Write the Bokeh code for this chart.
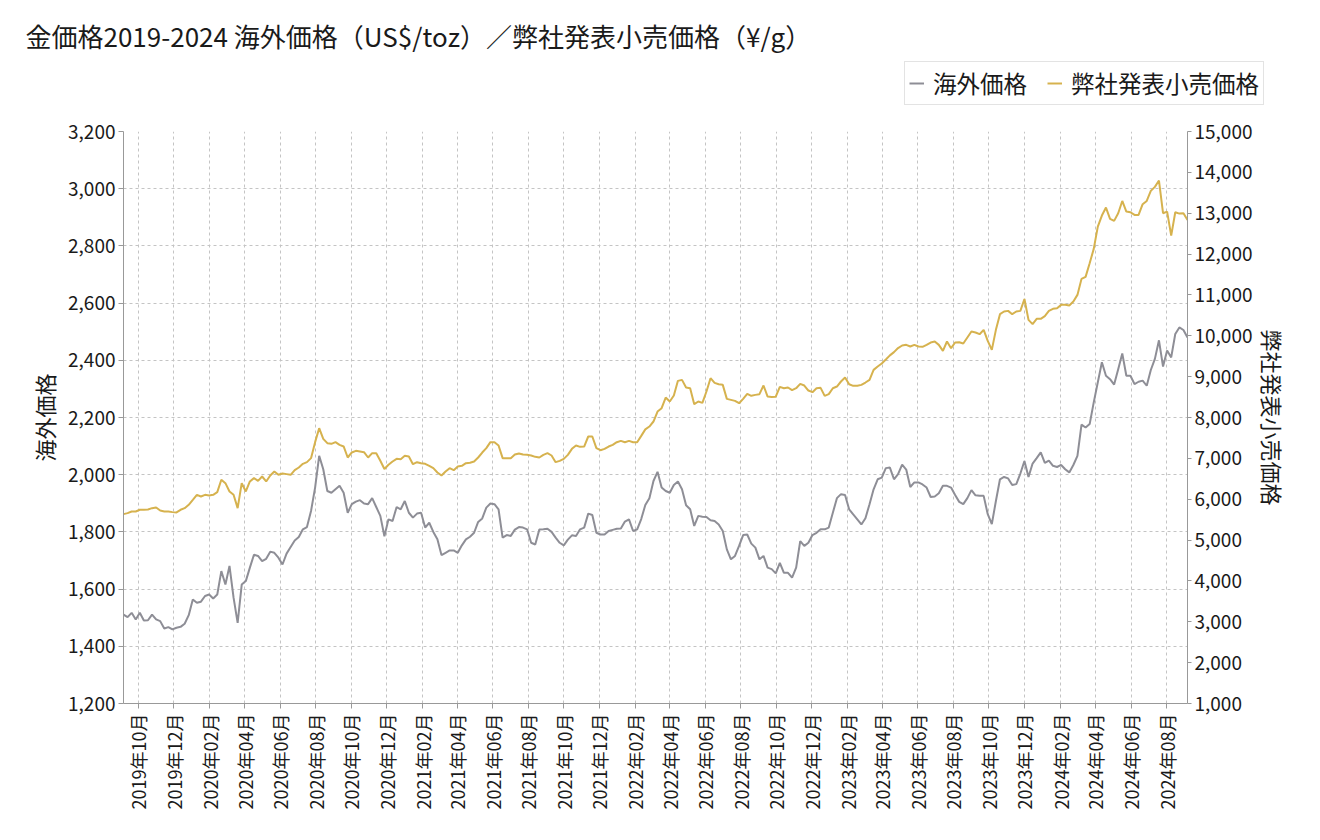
import math
import pandas as pd
from bokeh.plotting import figure
from bokeh.models import (Range1d, LinearAxis, SingleIntervalTicker, FixedTicker,
                          NumeralTickFormatter, DatetimeTickFormatter, Legend,
                          LegendItem, Label, ColumnDataSource)
from bokeh.embed import file_html
from bokeh.resources import INLINE

FONT = "Noto Sans CJK JP"
TITLE = "金価格2019-2024 海外価格（US$/toz）／弊社発表小売価格（¥/g）"

# weekly observations starting 2019-09-06
start_date = "2019-09-06"
end_date = "2024-09-06"

overseas_price = [  # US$/toz
    1511, 1502, 1517, 1494, 1517, 1490, 1491, 1511, 1494, 1488,
    1462, 1467, 1459, 1465, 1468, 1479, 1509, 1564, 1552, 1556,
    1576, 1581, 1567, 1581, 1663, 1616, 1681, 1570, 1482, 1616,
    1628, 1675, 1720, 1716, 1698, 1706, 1731, 1727, 1710, 1686,
    1724, 1747, 1770, 1782, 1809, 1817, 1873, 1955, 2066, 2019,
    1943, 1937, 1949, 1961, 1937, 1867, 1897, 1906, 1911, 1899,
    1897, 1918, 1887, 1856, 1785, 1844, 1838, 1887, 1879, 1908,
    1867, 1850, 1864, 1867, 1815, 1832, 1800, 1774, 1719, 1727,
    1735, 1735, 1727, 1753, 1774, 1783, 1797, 1835, 1847, 1885,
    1899, 1897, 1879, 1780, 1789, 1786, 1808, 1817, 1815, 1809,
    1762, 1756, 1808, 1809, 1811, 1800, 1780, 1762, 1753, 1773,
    1788, 1786, 1809, 1815, 1864, 1859, 1797, 1791, 1791, 1803,
    1807, 1811, 1812, 1836, 1844, 1803, 1809, 1845, 1894, 1918,
    1978, 2010, 1955, 1943, 1937, 1964, 1976, 1949, 1893, 1879,
    1821, 1856, 1853, 1852, 1841, 1838, 1826, 1803, 1739, 1704,
    1716, 1751, 1789, 1791, 1759, 1745, 1704, 1716, 1675, 1670,
    1655, 1692, 1657, 1657, 1640, 1675, 1768, 1751, 1762, 1789,
    1797, 1809, 1809, 1815, 1867, 1918, 1932, 1929, 1879, 1861,
    1844, 1826, 1848, 1897, 1949, 1984, 1990, 2023, 2025, 1984,
    2002, 2035, 2018, 1957, 1973, 1973, 1966, 1955, 1922, 1924,
    1935, 1961, 1961, 1955, 1929, 1905, 1897, 1918, 1946, 1928,
    1926, 1926, 1862, 1827, 1908, 1984, 1992, 1987, 1964, 1967,
    2004, 2048, 1992, 2039, 2058, 2078, 2041, 2049, 2031, 2027,
    2034, 2019, 2008, 2034, 2066, 2175, 2165, 2177, 2253, 2323,
    2393, 2346, 2334, 2315, 2369, 2424, 2346, 2346, 2317, 2325,
    2329, 2311, 2366, 2405, 2470, 2378, 2434, 2410, 2492, 2515,
    2506, 2480,
]

retail_price = [  # JPY/g
    5635, 5659, 5700, 5700, 5741, 5741, 5749, 5781, 5798, 5724,
    5700, 5700, 5684, 5676, 5741, 5781, 5863, 5985, 6108, 6067,
    6108, 6091, 6108, 6173, 6475, 6393, 6189, 6108, 5781, 6393,
    6189, 6434, 6516, 6450, 6556, 6434, 6581, 6679, 6597, 6630,
    6614, 6597, 6711, 6777, 6866, 6907, 7005, 7397, 7739, 7478,
    7372, 7356, 7397, 7331, 7291, 7021, 7144, 7184, 7168, 7152,
    7021, 7127, 7127, 6940, 6740, 6842, 6923, 6988, 6980, 7062,
    7046, 6858, 6907, 6882, 6866, 6817, 6760, 6654, 6581, 6678,
    6760, 6711, 6801, 6817, 6882, 6891, 6923, 7021, 7143, 7249,
    7396, 7396, 7315, 7005, 7005, 7005, 7095, 7119, 7094, 7086,
    7070, 7037, 7021, 7086, 7127, 7070, 6907, 6939, 6988, 7086,
    7233, 7315, 7282, 7290, 7535, 7535, 7249, 7200, 7233, 7290,
    7331, 7396, 7429, 7396, 7429, 7396, 7396, 7550, 7710, 7779,
    7902, 8146, 8228, 8489, 8391, 8538, 8897, 8921, 8734, 8717,
    8326, 8391, 8359, 8636, 8962, 8848, 8815, 8799, 8456, 8432,
    8407, 8350, 8456, 8579, 8530, 8554, 8571, 8783, 8513, 8500,
    8510, 8750, 8717, 8734, 8668, 8717, 8823, 8783, 8660, 8620,
    8717, 8726, 8530, 8571, 8717, 8758, 8881, 8978, 8815, 8775,
    8775, 8799, 8856, 8921, 9166, 9248, 9321, 9420, 9520, 9600,
    9700, 9762, 9778, 9737, 9778, 9737, 9729, 9778, 9835, 9860,
    9778, 9631, 9860, 9697, 9835, 9843, 9811, 9958, 10104, 10080,
    10039, 10145, 9876, 9656, 10145, 10529, 10594, 10610, 10529, 10594,
    10610, 10900, 10390, 10284, 10414, 10414, 10480, 10610, 10659, 10675,
    10757, 10757, 10740, 10838, 11001, 11393, 11442, 11776, 12127, 12673,
    12943, 13138, 12861, 12812, 13000, 13300, 13040, 13024, 12959, 12959,
    13220, 13301, 13546, 13644, 13800, 13000, 13040, 12450, 13024, 12991,
    13000, 12836,
]

tick_months = [
    "2019-10-01", "2019-12-01", "2020-02-01", "2020-04-01", "2020-06-01",
    "2020-08-01", "2020-10-01", "2020-12-01", "2021-02-01", "2021-04-01",
    "2021-06-01", "2021-08-01", "2021-10-01", "2021-12-01", "2022-02-01",
    "2022-04-01", "2022-06-01", "2022-08-01", "2022-10-01", "2022-12-01",
    "2023-02-01", "2023-04-01", "2023-06-01", "2023-08-01", "2023-10-01",
    "2023-12-01", "2024-02-01", "2024-04-01", "2024-06-01", "2024-08-01",
]

series_names = ["海外価格", "弊社発表小売価格"]
series_colors = ["#8e8e96", "#d6b24e"]
left_axis_label = "海外価格"
right_axis_label = "弊社発表小売価格"

dates = pd.date_range(start_date, periods=len(overseas_price), freq="7D")
src = ColumnDataSource(dict(date=dates, overseas=overseas_price, retail=retail_price))

TEXT = "#1a1a1a"
AXC = "#999999"
W = 1316
HEAD_H = 115

# ---------- header (separate root): title + legend ----------
head = figure(width=W, height=HEAD_H, x_range=Range1d(0, W), y_range=Range1d(0, HEAD_H),
              output_backend="svg", toolbar_location=None,
              x_axis_location=None, y_axis_location=None,
              min_border_left=0, min_border_right=0, min_border_top=0, min_border_bottom=0)
head.outline_line_color = None
head.grid.visible = False
head.background_fill_color = "white"
head.border_fill_color = "white"

# the series themselves, outside this header's visible range: used as legend glyph sources
lg0 = head.line("date", "overseas", source=src, line_color=series_colors[0], line_width=2)
lg1 = head.line("date", "retail", source=src, line_color=series_colors[1], line_width=2)

legend = Legend(items=[LegendItem(label=series_names[0], renderers=[lg0]),
                       LegendItem(label=series_names[1], renderers=[lg1])],
                orientation="horizontal", location=(904, 10),
                label_text_font=FONT, label_text_font_size="23.5px",
                label_text_color=TEXT, glyph_width=15, glyph_height=20,
                label_standoff=9, spacing=20, padding=4, margin=0,
                border_line_color="#c8c8c8", border_line_width=1,
                background_fill_color="white", background_fill_alpha=1)
head.add_layout(legend)

head.add_layout(Label(x=25, y=HEAD_H - 35, text=TITLE, text_font=FONT,
                      text_font_size="26px", text_color=TEXT,
                      text_baseline="alphabetic", text_align="left"))

# ---------- main chart ----------
p = figure(width=W, height=836 - HEAD_H, x_axis_type="datetime",
           x_range=Range1d(pd.Timestamp(start_date), pd.Timestamp(end_date)),
           y_range=Range1d(1200, 3200),
           output_backend="svg", toolbar_location=None,
           min_border_left=123, min_border_right=129,
           min_border_top=16, min_border_bottom=133)
p.outline_line_color = None
p.background_fill_color = "white"
p.border_fill_color = "white"
p.extra_y_ranges = {"right": Range1d(1000, 15000)}

# x axis
xa = p.xaxis[0]
xa.ticker = FixedTicker(ticks=[pd.Timestamp(t).value // 10**6 for t in tick_months])
fmt = "%Y年%m月"
xa.formatter = DatetimeTickFormatter(days=fmt, months=fmt, years=fmt, hours=fmt,
                                     hourmin=fmt, minutes=fmt, minsec=fmt, seconds=fmt,
                                     milliseconds=fmt, microseconds=fmt)
xa.major_label_orientation = math.pi / 2
xa.major_label_text_font = FONT
xa.major_label_text_font_size = "18px"
xa.major_label_text_color = TEXT
xa.major_label_standoff = 5
xa.axis_line_color = AXC
xa.major_tick_line_color = AXC
xa.major_tick_out = 5
xa.major_tick_in = 0
xa.minor_tick_line_color = None

# left axis
ya = p.yaxis[0]
ya.ticker = SingleIntervalTicker(interval=200)
ya.formatter = NumeralTickFormatter(format="0,0")
ya.major_label_text_font = FONT
ya.major_label_text_font_size = "19px"
ya.major_label_text_color = TEXT
ya.major_label_standoff = 3
ya.axis_line_color = AXC
ya.major_tick_line_color = AXC
ya.major_tick_out = 5
ya.major_tick_in = 0
ya.minor_tick_line_color = None
ya.axis_label = left_axis_label
ya.axis_label_text_font = FONT
ya.axis_label_text_font_size = "22px"
ya.axis_label_text_font_style = "normal"
ya.axis_label_text_color = TEXT
ya.axis_label_standoff = 5

# right axis
ra = LinearAxis(y_range_name="right", ticker=SingleIntervalTicker(interval=1000),
                formatter=NumeralTickFormatter(format="0,0"))
ra.major_label_text_font = FONT
ra.major_label_text_font_size = "19px"
ra.major_label_text_color = TEXT
ra.major_label_standoff = 3
ra.axis_line_color = AXC
ra.major_tick_line_color = AXC
ra.major_tick_out = 4
ra.major_tick_in = 0
ra.minor_tick_line_color = None
ra.axis_label = right_axis_label
ra.axis_label_text_font = FONT
ra.axis_label_text_font_size = "22px"
ra.axis_label_text_font_style = "normal"
ra.axis_label_text_color = TEXT
ra.axis_label_standoff = 1
p.add_layout(ra, "right")

# grids
for g in (p.xgrid[0], p.ygrid[0]):
    g.grid_line_color = "#c4c4c4"
    g.grid_line_dash = "3 3"
    g.grid_line_width = 1

p.line("date", "overseas", source=src, line_color=series_colors[0], line_width=2)
p.line("date", "retail", source=src, line_color=series_colors[1], line_width=2,
       y_range_name="right")

open("out.html", "w").write(file_html([head, p], INLINE))
